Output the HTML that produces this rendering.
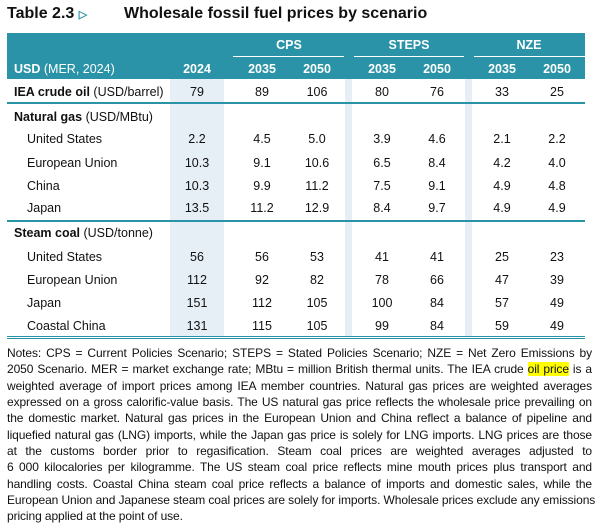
<!DOCTYPE html>
<html><head><meta charset="utf-8">
<style>
body{margin:0;width:605px;height:527px;background:#fff;font-family:"Liberation Sans",sans-serif;color:#111;position:relative;overflow:hidden}
.a{position:absolute;white-space:nowrap}
.c{transform:translate(-50%,-50%);font-size:12.5px}
.l{transform:translateY(-50%);font-size:12.5px}
.hd{color:#fff;font-weight:bold}
.note{position:absolute;left:7px;width:585px;font-size:12px;letter-spacing:-0.1px;text-align:justify;text-align-last:justify;line-height:16px;white-space:nowrap}
.note.last{text-align-last:left}
</style></head><body>
<div class="a" style="left:7px;top:5px;font-size:16px;font-weight:bold">Table 2.3 <span style="color:#2a93a8;font-size:11px">&#9655;</span></div>
<div class="a" style="left:124px;top:5px;font-size:16px;font-weight:bold">Wholesale fossil fuel prices by scenario</div>
<div class="a" style="left:7px;top:33px;width:578px;height:46px;background:#2a93a8"></div>
<div class="a" style="left:170px;top:79px;width:54px;height:258px;background:#e6eef6"></div>
<div class="a" style="left:345px;top:79px;width:7px;height:258px;background:#e8eef5"></div>
<div class="a" style="left:465px;top:79px;width:7px;height:258px;background:#e8eef5"></div>
<div class="a" style="left:233px;top:56px;width:111px;height:1px;background:#fff"></div>
<div class="a" style="left:354px;top:56px;width:110px;height:1px;background:#fff"></div>
<div class="a" style="left:474px;top:56px;width:111px;height:1px;background:#fff"></div>
<div class="a c hd" style="left:289px;top:45px">CPS</div>
<div class="a c hd" style="left:409px;top:45px">STEPS</div>
<div class="a c hd" style="left:529px;top:45px">NZE</div>
<div class="a l hd" style="left:14px;top:69px">USD <span style="font-weight:normal">(MER, 2024)</span></div>
<div class="a" style="left:7px;top:102px;width:578px;height:2px;background:#2a93a8"></div>
<div class="a" style="left:7px;top:220px;width:578px;height:2px;background:#2a93a8"></div>
<div class="a" style="left:7px;top:336px;width:578px;height:1px;background:#2a93a8"></div>
<div class="a" style="left:7px;top:338px;width:578px;height:1px;background:#2a93a8"></div>
<div id="tbl"></div>
<div class="note" style="top:345px">Notes: CPS = Current Policies Scenario; STEPS = Stated Policies Scenario; NZE = Net Zero Emissions by</div>
<div class="note" style="top:361px">2050 Scenario. MER = market exchange rate; MBtu = million British thermal units. The IEA crude <span style="background:#ffff00">oil price</span> is a</div>
<div class="note" style="top:378px">weighted average of import prices among IEA member countries. Natural gas prices are weighted averages</div>
<div class="note" style="top:394px">expressed on a gross calorific-value basis. The US natural gas price reflects the wholesale price prevailing on</div>
<div class="note" style="top:410px">the domestic market. Natural gas prices in the European Union and China reflect a balance of pipeline and</div>
<div class="note" style="top:427px">liquefied natural gas (LNG) imports, while the Japan gas price is solely for LNG imports. LNG prices are those</div>
<div class="note" style="top:443px">at the customs border prior to regasification. Steam coal prices are weighted averages adjusted to</div>
<div class="note" style="top:459px">6 000 kilocalories per kilogramme. The US steam coal price reflects mine mouth prices plus transport and</div>
<div class="note" style="top:476px">handling costs. Coastal China steam coal price reflects a balance of imports and domestic sales, while the</div>
<div class="note" style="top:492px">European Union and Japanese steam coal prices are solely for imports. Wholesale prices exclude any emissions</div>
<div class="note last" style="top:508px">pricing applied at the point of use.</div>
<script>
const years=["2024","2035","2050","2035","2050","2035","2050"];
const rowLabels=["IEA crude oil|(USD/barrel)","Natural gas|(USD/MBtu)","United States","European Union","China","Japan","Steam coal|(USD/tonne)","United States","European Union","Japan","Coastal China"];
const rowValues=[
["79","89","106","80","76","33","25"],null,
["2.2","4.5","5.0","3.9","4.6","2.1","2.2"],
["10.3","9.1","10.6","6.5","8.4","4.2","4.0"],
["10.3","9.9","11.2","7.5","9.1","4.9","4.8"],
["13.5","11.2","12.9","8.4","9.7","4.9","4.9"],null,
["56","56","53","41","41","25","23"],
["112","92","82","78","66","47","39"],
["151","112","105","100","84","57","49"],
["131","115","105","99","84","59","49"]];
const colX=[197,262,317,382,437,502,557];
const rowY=[92,117,139,163,186,208,233,257,280,303,326];
const t=document.getElementById('tbl');
years.forEach((y,i)=>{const d=document.createElement('div');d.className='a c hd';d.style.left=colX[i]+'px';d.style.top='69px';d.textContent=y;


t.appendChild(d);});
rowLabels.forEach((lab,r)=>{const d=document.createElement('div');d.className='a l';d.style.top=rowY[r]+'px';
if(lab.includes('|')){const p=lab.split('|');d.style.left='14px';d.innerHTML='<b>'+p[0]+'</b> '+p[1];}else{d.style.left='27px';d.textContent=lab;}


t.appendChild(d);
const v=rowValues[r];if(v)v.forEach((x,i)=>{const e=document.createElement('div');e.className='a c';e.style.left=colX[i]+'px';e.style.top=rowY[r]+'px';e.textContent=x;


t.appendChild(e);});});
</script>
</body></html>
